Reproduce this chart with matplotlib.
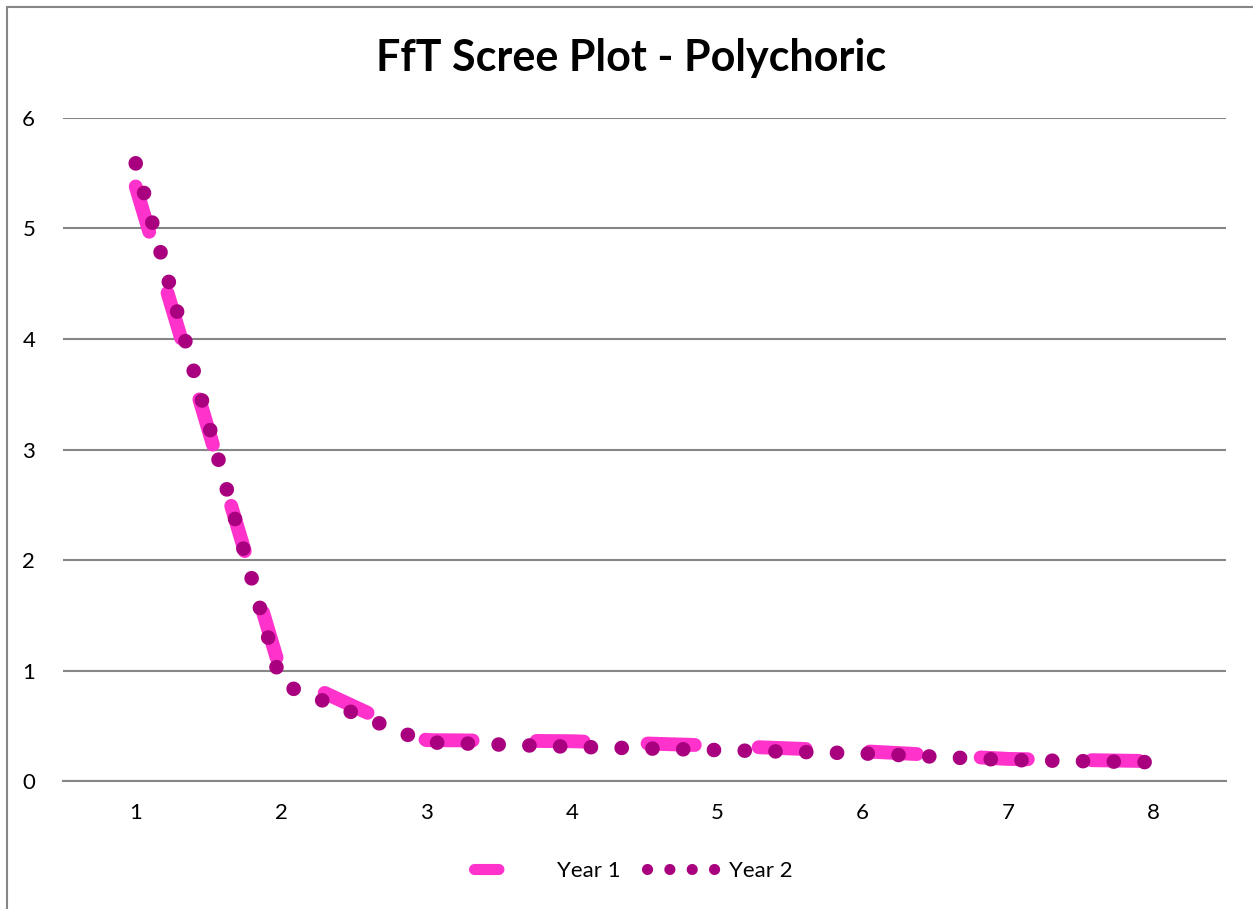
import matplotlib.pyplot as plt
from matplotlib.lines import Line2D
from matplotlib.patches import Rectangle

# values
factors = [1, 2, 3, 4, 5, 6, 7, 8]
year1 = [5.38, 0.98, 0.37, 0.36, 0.32, 0.27, 0.20, 0.18]
year2 = [5.59, 0.88, 0.35, 0.31, 0.28, 0.25, 0.19, 0.17]

PINK = "#FF33CC"
PLUM = "#A8007F"
GRID = "#868686"

plt.rcParams["font.family"] = ["Lato", "DejaVu Sans"]

fig = plt.figure(figsize=(12.53, 9.09), dpi=100)
ax = fig.add_axes([0.0503, 0.1408, 0.9282, 0.7294])

ax.plot(factors, year1, color=PINK, lw=10, dashes=(3.4, 4.6),
        dash_capstyle="round", solid_capstyle="round", zorder=3)
ax.plot(factors, year2, color=PLUM, lw=10.5, dashes=(0.01, 2.1),
        dash_capstyle="round", zorder=4)

ax.set_xlim(0.5, 8.5)
ax.set_ylim(0, 6)
ax.set_xticks(factors)
ax.set_yticks(range(0, 7))
ax.grid(axis="y", color=GRID, lw=1.5)
ax.set_axisbelow(True)
for side in ["top", "right", "left"]:
    ax.spines[side].set_visible(False)
ax.spines["bottom"].set_color(GRID)
ax.spines["bottom"].set_linewidth(1.5)
ax.tick_params(length=0, labelsize=16, colors="black")
ax.tick_params(axis="x", pad=16)
ax.tick_params(axis="y", pad=20)

fig.text(0.504, 1 - 58 / 909, "FfT Scree Plot - Polychoric",
         ha="center", va="center", fontsize=31, fontweight="bold")

# legend handles drawn in the Excel style
h1 = Line2D([], [], color=PINK, lw=8, dashes=(2.2, 10),
            dash_capstyle="round")
h2 = Line2D([], [], color=PLUM, lw=8, dashes=(0.01, 2),
            dash_capstyle="round")
fig.legend([h1, h2], ["Year 1", "Year 2"], loc="center",
           bbox_to_anchor=(633.5 / 1253, 1 - 871 / 909), ncol=2,
           frameon=False, fontsize=16, handlelength=3.3,
           handletextpad=0.4, columnspacing=1.2)

# chart border (cut off on the right and bottom in the reference)
fig.add_artist(Rectangle((7 / 1253, -0.1), 1.2, 1.1 - 7 / 909,
                         transform=fig.transFigure, fill=False,
                         edgecolor=GRID, lw=1.5))

fig.savefig("out.png", dpi=100)
